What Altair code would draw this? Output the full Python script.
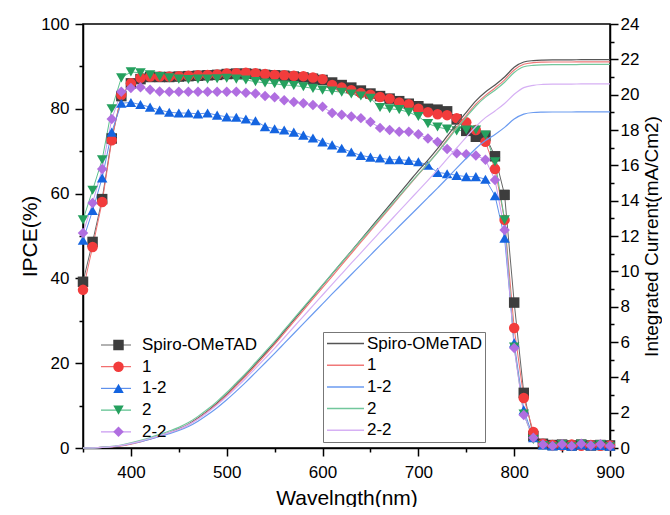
import altair as alt
import pandas as pd

wavelength = list(range(350, 901, 10))
series = ["Spiro-OMeTAD", "1", "1-2", "2", "2-2"]

ipce_spiro = [39.2, 48.6, 58.7, 73.0, 83.0, 86.0, 87.0, 87.5, 87.5, 87.5,
              87.6, 87.7, 87.8, 87.9, 88.0, 88.2, 88.3, 88.3, 88.2, 88.0,
              87.9, 87.8, 87.6, 87.4, 87.1, 86.8, 86.2, 85.6, 85.0, 84.3,
              83.6, 83.0, 82.4, 81.8, 81.2, 80.6, 80.0, 79.8, 79.4, 77.5,
              74.8, 73.4, 73.6, 68.8, 59.7, 34.3, 13.0, 2.8, 1.0, 0.7,
              0.8, 0.6, 0.8, 0.6, 0.7, 0.6]
ipce_1 = [37.3, 47.4, 58.0, 72.6, 83.3, 86.0, 87.3, 87.6, 87.6, 87.6,
          87.7, 87.8, 87.9, 88.0, 88.1, 88.3, 88.4, 88.5, 88.4, 88.2,
          88.0, 87.9, 87.8, 87.7, 87.4, 87.0, 85.6, 85.0, 84.4, 83.7,
          83.3, 82.8, 82.4, 81.5, 81.1, 80.0, 79.2, 78.7, 78.5, 77.8,
          76.8, 75.0, 72.2, 65.8, 53.8, 28.3, 11.8, 3.8, 1.0, 0.7,
          0.6, 0.8, 0.5, 0.7, 0.5, 0.6]
ipce_1_2 = [49.0, 56.0, 63.7, 74.5, 81.3, 81.5, 81.0, 80.4, 79.7, 79.2,
            79.0, 79.0, 78.8, 79.0, 78.5, 78.1, 78.0, 77.6, 77.2, 75.8,
            75.3, 75.0, 74.5, 73.8, 73.1, 72.2, 71.5, 70.7, 69.8, 69.0,
            68.6, 68.4, 68.0, 68.0, 67.8, 67.5, 66.7, 65.0, 64.7, 64.3,
            64.0, 64.0, 63.4, 59.5, 49.5, 24.8, 9.0, 2.4, 0.7, 0.5,
            0.6, 0.4, 0.7, 0.5, 0.6, 0.4]
ipce_2 = [53.8, 60.8, 68.0, 80.0, 87.3, 88.7, 88.5, 88.0, 87.6, 87.3,
          87.0, 86.9, 87.0, 87.0, 87.1, 87.2, 87.0, 86.8, 86.4, 86.1,
          85.9, 85.6, 85.5, 85.2, 84.8, 84.4, 84.2, 83.9, 83.5, 83.0,
          82.5, 80.3, 80.0, 79.8, 79.2, 78.2, 76.5, 75.7, 75.2, 74.8,
          75.0, 75.0, 73.8, 67.5, 53.8, 23.8, 8.0, 2.0, 0.6, 0.3,
          0.8, 0.3, 0.9, 0.4, 0.8, 0.3]
ipce_2_2 = [50.7, 57.8, 65.8, 77.6, 84.0, 84.9, 85.1, 84.5, 84.1, 84.0,
            84.0, 84.0, 84.0, 84.0, 84.0, 84.0, 84.0, 83.8, 83.6, 83.0,
            82.7, 82.0, 81.6, 81.3, 80.9, 80.5, 79.0, 78.6, 78.2, 77.8,
            76.9, 75.5, 75.0, 74.6, 74.6, 74.0, 73.0, 72.2, 70.5, 69.5,
            69.3, 69.0, 68.0, 63.2, 51.4, 23.6, 7.8, 2.4, 0.8, 0.5,
            0.9, 0.5, 1.0, 0.6, 0.9, 0.5]

cur_spiro = [0, 0.01, 0.03, 0.07, 0.14, 0.25, 0.38, 0.53, 0.70, 0.88,
             1.08, 1.35, 1.70, 2.10, 2.55, 3.05, 3.60, 4.15, 4.75, 5.35,
             5.95, 6.60, 7.25, 7.90, 8.55, 9.20, 9.85, 10.50, 11.15, 11.80,
             12.45, 13.10, 13.75, 14.40, 15.05, 15.70, 16.30, 16.95, 17.65, 18.35,
             19.00, 19.65, 20.15, 20.55, 21.00, 21.55, 21.85, 21.93, 21.96, 21.97,
             21.97, 21.97, 21.98, 21.98, 21.98, 21.98]
cur_1 = [0, 0.01, 0.03, 0.06, 0.12, 0.22, 0.35, 0.50, 0.67, 0.85,
         1.05, 1.31, 1.65, 2.05, 2.49, 2.98, 3.52, 4.07, 4.66, 5.26,
         5.86, 6.50, 7.15, 7.79, 8.44, 9.08, 9.72, 10.37, 11.01, 11.65,
         12.29, 12.93, 13.57, 14.21, 14.85, 15.49, 16.10, 16.75, 17.45, 18.15,
         18.82, 19.46, 19.96, 20.38, 20.84, 21.40, 21.72, 21.81, 21.84, 21.85,
         21.85, 21.85, 21.86, 21.86, 21.86, 21.86]
cur_1_2 = [0, 0.01, 0.03, 0.07, 0.14, 0.24, 0.36, 0.50, 0.65, 0.81,
           0.99, 1.22, 1.52, 1.88, 2.28, 2.73, 3.22, 3.73, 4.27, 4.81,
           5.36, 5.92, 6.48, 7.04, 7.60, 8.16, 8.72, 9.27, 9.82, 10.37,
           10.92, 11.47, 12.01, 12.55, 13.09, 13.63, 14.17, 14.71, 15.27, 15.84,
           16.40, 16.95, 17.40, 17.75, 18.15, 18.62, 18.90, 18.99, 19.01, 19.02,
           19.02, 19.02, 19.03, 19.03, 19.03, 19.03]
cur_2 = [0, 0.01, 0.04, 0.09, 0.17, 0.29, 0.43, 0.59, 0.77, 0.96,
         1.17, 1.44, 1.79, 2.19, 2.64, 3.14, 3.69, 4.24, 4.84, 5.44,
         6.04, 6.68, 7.32, 7.96, 8.60, 9.23, 9.87, 10.50, 11.13, 11.76,
         12.38, 13.01, 13.63, 14.26, 14.88, 15.50, 16.10, 16.72, 17.40, 18.08,
         18.73, 19.36, 19.86, 20.25, 20.70, 21.25, 21.58, 21.66, 21.69, 21.70,
         21.70, 21.70, 21.71, 21.71, 21.71, 21.71]
cur_2_2 = [0, 0.01, 0.03, 0.08, 0.15, 0.26, 0.39, 0.54, 0.70, 0.87,
           1.06, 1.31, 1.63, 2.01, 2.44, 2.91, 3.42, 3.95, 4.51, 5.07,
           5.64, 6.24, 6.85, 7.45, 8.06, 8.66, 9.26, 9.86, 10.46, 11.05,
           11.64, 12.23, 12.82, 13.41, 13.99, 14.57, 15.15, 15.74, 16.36, 16.98,
           17.60, 18.20, 18.70, 19.08, 19.50, 20.02, 20.40, 20.53, 20.58, 20.60,
           20.60, 20.60, 20.61, 20.61, 20.61, 20.61]

x_ticks = list(range(350, 901, 50))
ipce_ticks = list(range(0, 101, 10))
cur_ticks = list(range(0, 25, 1))

marker_colors = ["#3d3d3d", "#f23c3c", "#1464e0", "#25a05e", "#b06ee0"]
ipce_line_colors = ["#666666", "#f26f6f", "#5e90ec", "#5cc08e", "#c99af0"]
cur_line_colors = ["#555555", "#f07878", "#6b9bf0", "#72c79c", "#d6b0f4"]
marker_shapes = ["square", "circle", "triangle-up", "triangle-down", "diamond"]

ipce_lists = [ipce_spiro, ipce_1, ipce_1_2, ipce_2, ipce_2_2]
cur_lists = [cur_spiro, cur_1, cur_1_2, cur_2, cur_2_2]

rows = []
for name, ip, cu in zip(series, ipce_lists, cur_lists):
    for w, a, b in zip(wavelength, ip, cu):
        rows.append({"wl": w, "series": name, "ipce": a, "current": b})
df = pd.DataFrame(rows)

FONT = "Liberation Sans"
W, H = 527, 424

x_enc = alt.X(
    "wl:Q",
    scale=alt.Scale(domain=[350, 900], nice=False, zero=False),
    axis=alt.Axis(
        values=x_ticks,
        labelExpr="datum.value % 100 === 0 ? datum.label : ''",
        tickSize={"condition": {"test": "datum.value % 100 !== 0", "value": 4}, "value": 8},
        labelFlush=False, labelPadding=8,
        title="Wavelngth(nm)",
        titleX=W / 2, titleY=50, titleAlign="center", titleBaseline="middle",
    ),
)

left_axis = alt.Axis(
    values=ipce_ticks,
    labelExpr="datum.value % 20 === 0 ? datum.label : ''",
    tickSize={"condition": {"test": "datum.value % 20 !== 0", "value": 4}, "value": 8},
    labelFlush=False, labelPadding=6,
    title="IPCE(%)",
    titleAngle=270, titleX=-53, titleY=H / 2, titleAlign="center", titleBaseline="middle",
)
right_axis = alt.Axis(
    orient="right",
    values=cur_ticks,
    labelExpr="datum.value % 2 === 0 ? datum.label : ''",
    tickSize={"condition": {"test": "datum.value % 2 !== 0", "value": 4}, "value": 8},
    labelFlush=False, labelPadding=2,
    title="Integrated Current(mA/Cm2)",
    titleAngle=270, titleX=41, titleY=H / 2, titleAlign="center", titleBaseline="middle",
    titleFontSize=19,
)

legend_common = dict(orient="none", title=None, labelFontSize=17, labelFont=FONT,
                     labelColor="black", clipHeight=17, rowPadding=3.7)

ipce_line = alt.Chart(df).mark_line(strokeWidth=1).encode(
    x=x_enc,
    y=alt.Y("ipce:Q", scale=alt.Scale(domain=[0, 100], nice=False), axis=left_axis),
    color=alt.Color("series:N", scale=alt.Scale(domain=series, range=ipce_line_colors),
                    legend=alt.Legend(legendX=17, legendY=312.5, symbolType="stroke",
                                      symbolSize=900, symbolStrokeWidth=1.2,
                                      labelExpr="''", labelOffset=4, padding=0,
                                      **legend_common)),
)

pt_legend = alt.Legend(legendX=27, legendY=312.5, symbolSize=110, labelOffset=15,
                       symbolOpacity=1, padding=0, **legend_common)
ipce_point = alt.Chart(df).mark_point(filled=True, size=110, opacity=1).encode(
    x=x_enc,
    y=alt.Y("ipce:Q", scale=alt.Scale(domain=[0, 100], nice=False), axis=None),
    color=alt.Color("series:N", scale=alt.Scale(domain=series, range=marker_colors), legend=pt_legend),
    shape=alt.Shape("series:N", scale=alt.Scale(domain=series, range=marker_shapes), legend=pt_legend),
)

cur_line = alt.Chart(df).mark_line(strokeWidth=1.2, interpolate="monotone").encode(
    x=x_enc,
    y=alt.Y("current:Q", scale=alt.Scale(domain=[0, 24], nice=False), axis=right_axis),
    color=alt.Color("series:N", scale=alt.Scale(domain=series, range=cur_line_colors),
                    legend=alt.Legend(legendX=240, legendY=308, symbolType="stroke",
                                      symbolSize=1369, symbolStrokeWidth=1.5,
                                      labelOffset=2, padding=3,
                                      strokeColor="#777777", fillColor="white",
                                      **legend_common)),
)

chart = alt.layer(ipce_line, ipce_point, cur_line).resolve_scale(
    y="independent", color="independent", shape="independent"
).properties(
    width=W, height=H,
    autosize=alt.AutoSizeParams(type="none"),
    padding={"left": 75, "top": 16, "right": 52, "bottom": 59},
).configure_view(
    stroke="black", strokeWidth=1.5
).configure_axis(
    grid=False, domainColor="black", domainWidth=1.5, tickColor="black", tickWidth=1.5,
    labelFont=FONT, labelFontSize=17, labelColor="black",
    titleFont=FONT, titleFontSize=21, titleColor="black", titleFontWeight="normal",
)

chart.save("out.html", embed_options={"renderer": "svg", "actions": False})
